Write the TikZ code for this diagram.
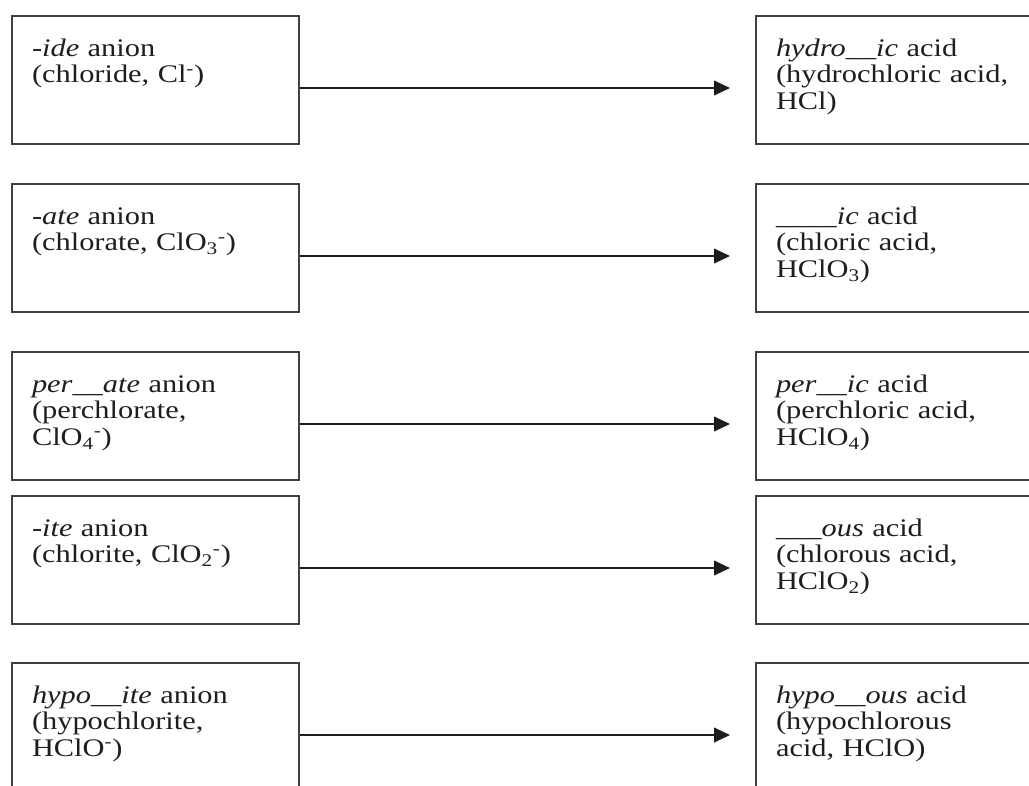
\documentclass[tikz,border=0pt]{standalone}
\usepackage{fontspec}
\setmainfont{Liberation Serif}[FakeStretch=1.2]
\usetikzlibrary{arrows.meta}
\definecolor{boxline}{HTML}{404040}
\definecolor{inktext}{HTML}{1e1e1e}

\begin{document}
\begin{tikzpicture}[x=0.75pt,y=-0.75pt,
        namebox/.style={draw=boxline,line width=1.5pt,anchor=north west,inner xsep=15pt,inner ysep=0pt,
            text height=30pt,text depth=66pt,align=left,text=inktext,font=\fontsize{19}{20}\selectfont},
        anionbox/.style={namebox,text width=185.25pt},
        acidbox/.style={namebox,text width=220pt},
        conv/.style={-{Triangle[length=12pt,width=11pt]},line width=1.5pt,draw=inktext,shorten >=18.75pt}]
        \useasboundingbox (0,0) rectangle (1029,786);
        \clip (0,0) rectangle (1029,786);

        \node[anionbox] at (11,15) (ide-anion) {\textit{-ide} anion\\(chloride, Cl\textsuperscript{-})};
        \node[acidbox] at (755,15) (ide-acid) {\textit{hydro\_\_ic} acid\\(hydrochloric acid,\\HCl)};
        \draw[conv] ([yshift=-6pt]ide-anion.east) -- ([yshift=-6pt]ide-acid.west);

        \node[anionbox] at (11,183) (ate-anion) {\textit{-ate} anion\\(chlorate, ClO\textsubscript{3}\textsuperscript{-})};
        \node[acidbox] at (755,183) (ate-acid) {\textit{\_\_\_\_ic} acid\\(chloric acid,\\HClO\textsubscript{3})};
        \draw[conv] ([yshift=-6pt]ate-anion.east) -- ([yshift=-6pt]ate-acid.west);

        \node[anionbox] at (11,351) (perate-anion) {\textit{per\_\_ate} anion\\(perchlorate,\\ClO\textsubscript{4}\textsuperscript{-})};
        \node[acidbox] at (755,351) (perate-acid) {\textit{per\_\_ic} acid\\(perchloric acid,\\HClO\textsubscript{4})};
        \draw[conv] ([yshift=-6pt]perate-anion.east) -- ([yshift=-6pt]perate-acid.west);

        \node[anionbox] at (11,495) (ite-anion) {\textit{-ite} anion\\(chlorite, ClO\textsubscript{2}\textsuperscript{-})};
        \node[acidbox] at (755,495) (ite-acid) {\textit{\_\_\_ous} acid\\(chlorous acid,\\HClO\textsubscript{2})};
        \draw[conv] ([yshift=-6pt]ite-anion.east) -- ([yshift=-6pt]ite-acid.west);

        \node[anionbox] at (11,662) (hypoite-anion) {\textit{hypo\_\_ite} anion\\(hypochlorite,\\HClO\textsuperscript{-})};
        \node[acidbox] at (755,662) (hypoite-acid) {\textit{hypo\_\_ous} acid\\(hypochlorous\\acid, HClO)};
        \draw[conv] ([yshift=-6pt]hypoite-anion.east) -- ([yshift=-6pt]hypoite-acid.west);
    \end{tikzpicture}
\end{document}
